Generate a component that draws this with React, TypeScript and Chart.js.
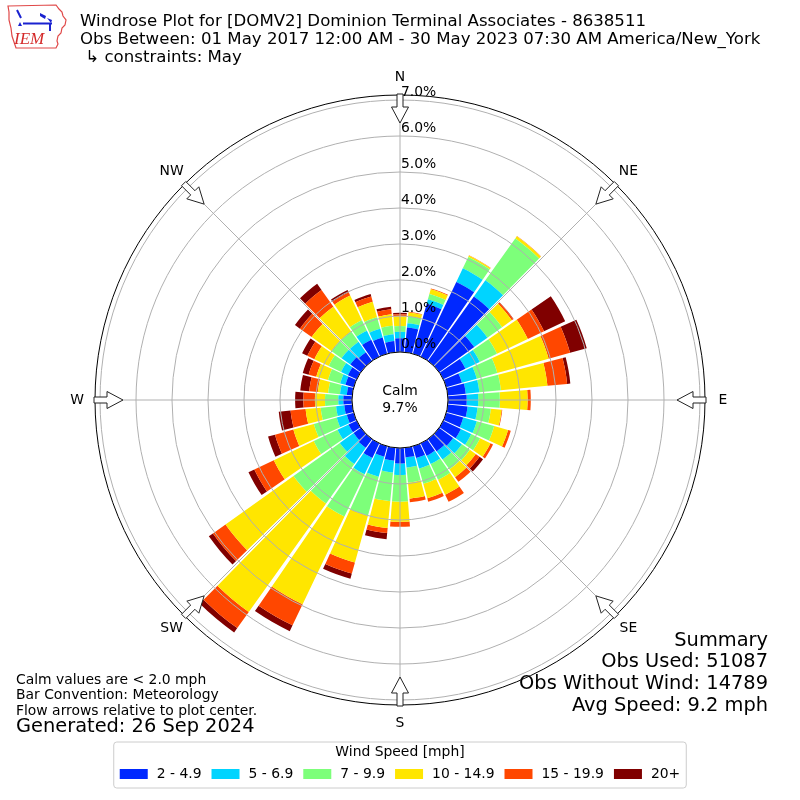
import React, { useEffect, useRef } from 'react';
import { Chart, registerables, PolarAreaController } from 'chart.js';

// ---------------- data ----------------
const directionDegrees = [0, 10, 20, 30, 40, 50, 60, 70, 80, 90, 100, 110, 120, 130, 140, 150, 160, 170,
  180, 190, 200, 210, 220, 230, 240, 250, 260, 270, 280, 290, 300, 310, 320, 330, 340, 350];

const speedBins = ['2 - 4.9', '5 - 6.9', '7 - 9.9', '10 - 14.9', '15 - 19.9', '20+'];
const binColors = ['#0028ff', '#00d4ff', '#7dff7a', '#ffe600', '#ff4700', '#800000'];

// percent of observations per direction bin, for each speed bin
const speed2to5 = [0.38, 0.69, 1.44, 2.30, 2.20, 1.20, 0.68, 0.45, 0.50, 0.52, 0.55, 0.49, 0.54, 0.48, 0.42, 0.38, 0.34, 0.27,
  0.43, 0.36, 0.30, 0.45, 0.30, 0.25, 0.25, 0.20, 0.22, 0.24, 0.15, 0.24, 0.27, 0.36, 0.30, 0.52, 0.47, 0.31];
const speed5to7 = [0.18, 0.12, 0.13, 0.42, 0.55, 0.45, 0.44, 0.43, 0.38, 0.32, 0.28, 0.39, 0.32, 0.30, 0.28, 0.26, 0.30, 0.28,
  0.32, 0.33, 0.58, 0.50, 0.55, 0.47, 0.34, 0.29, 0.23, 0.14, 0.19, 0.15, 0.21, 0.30, 0.35, 0.28, 0.25, 0.19];
const speed7to10 = [0.16, 0.19, 0.15, 0.35, 1.43, 0.50, 0.53, 0.59, 0.60, 0.60, 0.37, 0.50, 0.27, 0.27, 0.33, 0.48, 0.44, 0.42,
  0.74, 0.80, 1.12, 1.30, 1.35, 1.58, 0.73, 0.66, 0.43, 0.37, 0.33, 0.35, 0.38, 0.34, 0.35, 0.32, 0.33, 0.24];
const speed10to15 = [0.27, 0.11, 0.14, 0.04, 0.07, 0.33, 0.95, 1.48, 1.30, 0.77, 0.30, 0.40, 0.32, 0.20, 0.27, 0.46, 0.42, 0.45,
  0.56, 0.75, 1.35, 2.70, 3.70, 2.32, 1.23, 0.59, 0.42, 0.28, 0.29, 0.34, 0.44, 0.68, 0.85, 0.76, 0.45, 0.32];
const speed15to20 = [0.06, 0.02, 0.02, 0.01, 0.01, 0.05, 0.50, 0.62, 0.55, 0.09, 0.02, 0.08, 0.08, 0.13, 0.16, 0.22, 0.10, 0.10,
  0.14, 0.14, 0.32, 0.65, 0.55, 0.43, 0.60, 0.53, 0.42, 0.32, 0.24, 0.22, 0.22, 0.40, 0.57, 0.10, 0.15, 0.14];
const speed20plus = [0.04, 0.00, 0.00, 0.00, 0.00, 0.01, 0.65, 0.48, 0.09, 0.00, 0.00, 0.00, 0.00, 0.12, 0.00, 0.00, 0.00, 0.00,
  0.00, 0.17, 0.15, 0.18, 0.15, 0.14, 0.18, 0.20, 0.33, 0.23, 0.25, 0.17, 0.16, 0.17, 0.21, 0.07, 0.07, 0.07];

const tickValues = [0, 1, 2, 3, 4, 5, 6, 7];
const compassLabels = ['N', 'NE', 'E', 'SE', 'S', 'SW', 'W', 'NW'];
const calmPercent = 9.7;

const titleLines = [
  'Windrose Plot for [DOMV2] Dominion Terminal Associates - 8638511',
  'Obs Between: 01 May 2017 12:00 AM - 30 May 2023 07:30 AM America/New_York',
  ' \u21b3 constraints: May',
];
const noteLines = ['Calm values are < 2.0 mph', 'Bar Convention: Meteorology', 'Flow arrows relative to plot center.'];
const generatedText = 'Generated: 26 Sep 2024';
const summaryLines = ['Summary', 'Obs Used: 51087', 'Obs Without Wind: 14789', 'Avg Speed: 9.2 mph'];
const legendTitle = 'Wind Speed [mph]';

// ---------------- build stacked (cumulative) series ----------------
const speedSeries = [speed2to5, speed5to7, speed7to10, speed10to15, speed15to20, speed20plus];
const cumBase: number[][] = [];
const cumTop: number[][] = [];
{
  let running = directionDegrees.map(() => 0);
  speedSeries.forEach((series) => {
    const base = running.slice();
    const top = running.map((v, i) => v + series[i]);
    cumBase.push(base);
    cumTop.push(top);
    running = top;
  });
}

const FONT = '"DejaVu Sans", Verdana, sans-serif';

// --------------- custom controller: annular stacked wedges on the radial scale ---------------
class WindroseController extends (PolarAreaController as any) {
  static id = 'windrose';
  updateElements(arcs: any[], start: number, count: number, mode: any) {
    const self: any = this;
    const scale = self._cachedMeta.rScale;
    const ds: any = self.getDataset();
    const half = ((ds.barAngle || 9) * Math.PI) / 180 / 2;
    for (let i = start; i < start + count; i++) {
      const arc = arcs[i];
      const mid = scale.getIndexAngle(i) - Math.PI / 2;
      const top = self.getParsed(i).r;
      const base = ds.base[i];
      const properties = {
        x: scale.xCenter,
        y: scale.yCenter,
        innerRadius: scale.getDistanceFromCenterForValue(base),
        outerRadius: scale.getDistanceFromCenterForValue(top),
        startAngle: mid - half,
        endAngle: mid + half,
        circumference: 2 * half,
        options: self.resolveDataElementOptions(i, arc.active ? 'active' : mode),
      };
      self.updateElement(arc, i, properties, mode);
    }
  }
}

Chart.register(...registerables, WindroseController as any);

function drawLogo(ctx: CanvasRenderingContext2D) {
  ctx.save();
  ctx.strokeStyle = '#e04848';
  ctx.lineWidth = 1.2;
  const pts = [[8, 6], [56, 5], [59, 9], [62, 12], [63, 16], [66, 20], [65, 25], [62, 28], [61, 33], [58, 36], [57, 41],
    [58, 44], [56, 48], [16, 48], [14, 42], [12, 36], [11, 28], [9, 20], [9, 12]];
  ctx.beginPath();
  pts.forEach((p, i) => (i === 0 ? ctx.moveTo(p[0], p[1]) : ctx.lineTo(p[0], p[1])));
  ctx.closePath();
  ctx.stroke();
  ctx.strokeStyle = '#1a22d0';
  ctx.fillStyle = '#1a22d0';
  ctx.lineWidth = 2;
  ctx.beginPath();
  ctx.moveTo(23, 23.5); ctx.lineTo(52, 23.5);
  ctx.moveTo(17, 10); ctx.lineTo(21, 18);
  ctx.moveTo(50, 23.5); ctx.lineTo(50, 31);
  ctx.stroke();
  ctx.beginPath();
  ctx.moveTo(18, 26); ctx.lineTo(20, 22); ctx.lineTo(22, 26); ctx.closePath(); ctx.fill();
  ctx.beginPath();
  ctx.moveTo(40, 13); ctx.lineTo(46, 16); ctx.lineTo(45, 19); ctx.lineTo(40, 16); ctx.closePath(); ctx.fill();
  ctx.beginPath();
  ctx.moveTo(47, 18); ctx.lineTo(52, 20); ctx.lineTo(51, 23); ctx.closePath(); ctx.fill();
  ctx.fillStyle = '#d42a2a';
  ctx.font = 'italic 17px "Liberation Serif", "DejaVu Serif", serif';
  ctx.textAlign = 'left';
  ctx.textBaseline = 'alphabetic';
  ctx.fillText('IEM', 14, 44);
  ctx.restore();
}

const decorPlugin = {
  id: 'windroseDecor',
  afterDatasetsDraw(chart: any) {
    const ctx: CanvasRenderingContext2D = chart.ctx;
    const s = chart.scales.r;
    const cx = s.xCenter;
    const cy = s.yCenter;
    const r0 = s.getDistanceFromCenterForValue(0);
    const r1 = s.drawingArea;
    ctx.save();
    ctx.strokeStyle = '#b0b0b0';
    ctx.lineWidth = 1;
    compassLabels.forEach((_, k) => {
      const a = (k * Math.PI) / 4;
      ctx.beginPath();
      ctx.moveTo(cx + r0 * Math.sin(a), cy - r0 * Math.cos(a));
      ctx.lineTo(cx + r1 * Math.sin(a), cy - r1 * Math.cos(a));
      ctx.stroke();
    });
    ctx.restore();
  },
  afterDraw(chart: any) {
    const ctx: CanvasRenderingContext2D = chart.ctx;
    const s = chart.scales.r;
    const cx = s.xCenter;
    const cy = s.yCenter;
    const rCalm = s.getDistanceFromCenterForValue(0);
    const rOuter = s.drawingArea;
    ctx.save();

    // outer frame
    ctx.strokeStyle = '#000';
    ctx.lineWidth = 1;
    ctx.beginPath();
    ctx.arc(cx, cy, rOuter, 0, Math.PI * 2);
    ctx.stroke();

    // calm circle
    ctx.beginPath();
    ctx.arc(cx, cy, rCalm, 0, Math.PI * 2);
    ctx.fillStyle = '#fff';
    ctx.fill();
    ctx.stroke();
    ctx.fillStyle = '#000';
    ctx.font = `13.9px ${FONT}`;
    ctx.textAlign = 'center';
    ctx.textBaseline = 'middle';
    ctx.fillText('Calm', cx, cy - 9);
    ctx.fillText(`${calmPercent.toFixed(1)}%`, cx, cy + 8);

    // radial tick labels
    ctx.textAlign = 'left';
    tickValues.forEach((v) => {
      const r = s.getDistanceFromCenterForValue(v);
      ctx.fillText(`${v.toFixed(1)}%`, cx + 1, cy - r - 8);
    });

    // flow arrows + compass labels
    compassLabels.forEach((lab, k) => {
      const a = (k * Math.PI) / 4;
      const sa = Math.sin(a);
      const ca = Math.cos(a);
      const P = (u: number, w: number): [number, number] => [cx + u * sa + w * ca, cy - u * ca + w * sa];
      const tail = rOuter + 1;
      const neck = rOuter - 12;
      const tip = rOuter - 28;
      const poly = [P(tail, -3), P(neck, -3), P(neck, -8.5), P(tip, 0), P(neck, 8.5), P(neck, 3), P(tail, 3)];
      ctx.beginPath();
      poly.forEach((p, i) => (i === 0 ? ctx.moveTo(p[0], p[1]) : ctx.lineTo(p[0], p[1])));
      ctx.closePath();
      ctx.fillStyle = '#fff';
      ctx.fill();
      ctx.strokeStyle = '#222';
      ctx.lineWidth = 1;
      ctx.stroke();
      const [lx, ly] = P(rOuter + 18, 0);
      ctx.fillStyle = '#000';
      ctx.textAlign = 'center';
      ctx.textBaseline = 'middle';
      ctx.font = `13.9px ${FONT}`;
      ctx.fillText(lab, lx, ly);
    });

    // title
    ctx.textAlign = 'left';
    ctx.textBaseline = 'alphabetic';
    ctx.font = `16.6px ${FONT}`;
    titleLines.forEach((t, i) => ctx.fillText(t, 80, 25.5 + i * 18));

    // notes
    ctx.font = `13.9px ${FONT}`;
    noteLines.forEach((t, i) => ctx.fillText(t, 16, 683.5 + i * 15.5));
    ctx.font = `19.4px ${FONT}`;
    ctx.fillText(generatedText, 16, 732);

    // summary
    ctx.textAlign = 'right';
    summaryLines.forEach((t, i) => ctx.fillText(t, 768, 645.5 + i * 21.7));

    // legend
    ctx.font = `13.9px ${FONT}`;
    const sw = 28;
    const pad = 9;
    const gap = 10;
    const widths = speedBins.map((b) => ctx.measureText(b).width);
    const total = widths.reduce((acc, w) => acc + sw + pad + w, 0) + gap * (speedBins.length - 1);
    const left = 400 - total / 2;
    ctx.beginPath();
    const bx = left - 6, by = 742, bw = total + 12, bh = 46, rr = 3;
    ctx.moveTo(bx + rr, by);
    ctx.lineTo(bx + bw - rr, by); ctx.quadraticCurveTo(bx + bw, by, bx + bw, by + rr);
    ctx.lineTo(bx + bw, by + bh - rr); ctx.quadraticCurveTo(bx + bw, by + bh, bx + bw - rr, by + bh);
    ctx.lineTo(bx + rr, by + bh); ctx.quadraticCurveTo(bx, by + bh, bx, by + bh - rr);
    ctx.lineTo(bx, by + rr); ctx.quadraticCurveTo(bx, by, bx + rr, by);
    ctx.closePath();
    ctx.fillStyle = 'rgba(255,255,255,0.8)';
    ctx.fill();
    ctx.strokeStyle = '#cccccc';
    ctx.stroke();
    ctx.fillStyle = '#000';
    ctx.textAlign = 'center';
    ctx.textBaseline = 'middle';
    ctx.fillText(legendTitle, 400, 752);
    ctx.textAlign = 'left';
    let x = left;
    speedBins.forEach((b, i) => {
      ctx.fillStyle = binColors[i];
      ctx.fillRect(x, 769, sw, 10);
      ctx.fillStyle = '#000';
      ctx.fillText(b, x + sw + pad, 774);
      x += sw + pad + widths[i] + gap;
    });

    drawLogo(ctx);
    ctx.restore();
  },
};

export default function App() {
  const ref = useRef<HTMLCanvasElement>(null);
  useEffect(() => {
    if (!ref.current) return;
    const chart = new Chart(ref.current, {
      type: 'windrose' as any,
      data: {
        labels: directionDegrees.map((d) => `${d}\u00b0`),
        datasets: speedBins.map((name, k) => ({
          label: name,
          data: cumTop[k],
          base: cumBase[k],
          barAngle: 9,
          backgroundColor: binColors[k],
          borderWidth: 0,
        })) as any,
      },
      options: {
        responsive: false,
        animation: false,
        events: [],
        layout: { padding: 95 },
        plugins: { legend: { display: false }, tooltip: { enabled: false } },
        scales: {
          r: {
            type: 'radialLinear',
            min: -48 / 36,
            max: 7 + 5 / 36,
            startAngle: 0,
            beginAtZero: false,
            z: 1,
            ticks: { display: false },
            pointLabels: { display: false },
            angleLines: { display: false },
            grid: { circular: true, color: '#b0b0b0', lineWidth: 1, z: 1 },
            afterBuildTicks: (scale: any) => {
              scale.ticks = tickValues.map((v) => ({ value: v }));
            },
          } as any,
        },
      } as any,
      plugins: [decorPlugin as any],
    });
    return () => chart.destroy();
  }, []);
  return (
    <div style={{ position: 'fixed', left: 0, top: 0, width: 800, height: 800, background: '#fff' }}>
      <canvas ref={ref} width={800} height={800} style={{ display: 'block', width: 800, height: 800 }} />
    </div>
  );
}
